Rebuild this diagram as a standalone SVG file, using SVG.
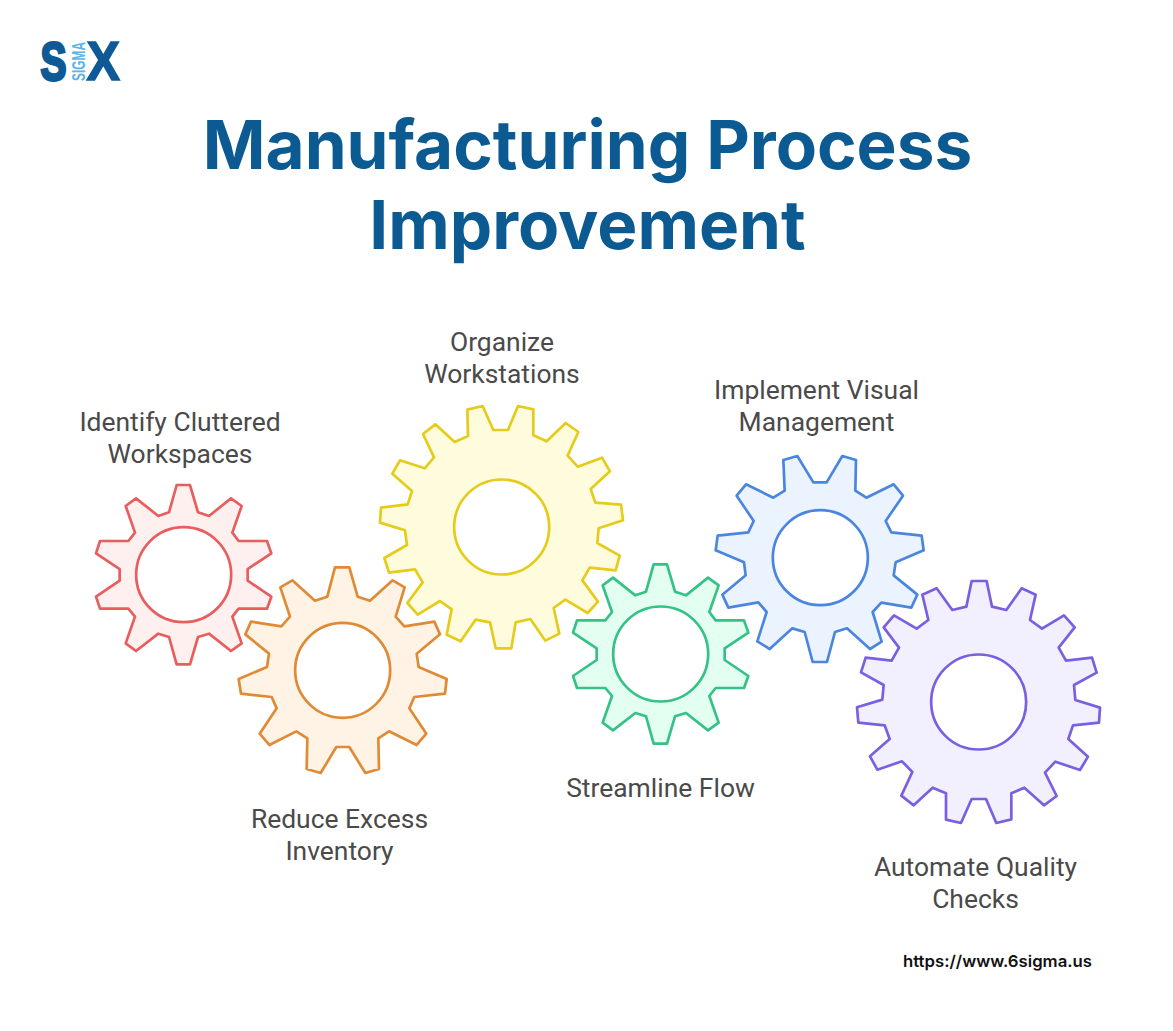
<svg xmlns="http://www.w3.org/2000/svg" width="1173" height="1031" viewBox="0 0 1173 1031">
<style>
text{font-family:Inter,"Liberation Sans",sans-serif}
.title{font-size:67.4px;font-weight:700;fill:#0c5a92;text-anchor:middle}
.label{font-family:Roboto,"Liberation Sans",sans-serif;font-size:26.45px;fill:#4a4a4a;text-anchor:middle}
.url{font-size:16.5px;font-weight:600;fill:#111}
.gear{stroke-width:2.7;stroke-linejoin:round;vector-effect:non-scaling-stroke}
.small{stroke-width:8.1;stroke-linejoin:round}
.hole{fill:#fff;stroke-width:2.7}
.z1{transform:translate(80px,470px) scale(.33333)}
.z2{transform:translate(370px,395px) scale(.33333)}
.z3{transform:translate(700px,445px) scale(.33333)}
.logo{font-family:"Liberation Sans",sans-serif;font-weight:700}
</style>
<defs>
<polygon id="small" points="-21,-269 19,-269 43,-187 76,-176 142,-229 174,-206 146,-126 165,-101 250,-101 263,-64 192,-17 192,18 263,66 250,102 165,102 146,126 174,206 142,229 76,177 43,187 19,269 -21,269 -44,187 -76,177 -143,229 -174,206 -146,126 -166,102 -251,102 -263,66 -192,18 -192,-17 -263,-64 -251,-101 -166,-101 -146,-126 -174,-206 -143,-229 -76,-176 -44,-187"/>
</defs>
<g id="logo">
<text class="logo" x="40.5" y="80" font-size="53" fill="#0f5a96" stroke="#0f5a96" stroke-width="3" textLength="26" lengthAdjust="spacingAndGlyphs">S</text>
<text class="logo" x="86.5" y="80" font-size="55" fill="#0f5a96" stroke="#0f5a96" stroke-width="1.5" textLength="33.5" lengthAdjust="spacingAndGlyphs">X</text>
<text class="logo" transform="translate(84.5 81) rotate(-90)" font-size="19" fill="#5ab4e6" textLength="39" lengthAdjust="spacingAndGlyphs">SIGMA</text>
</g>
<g id="title">
<text class="title" x="587.5" y="168.5">Manufacturing Process</text>
<text class="title" x="587.5" y="249">Improvement</text>
</g>
<g id="connectors"></g>
<g id="gear-identify">
<use href="#small" class="small" transform="translate(183.67 574.67) scale(.33333)" fill="#fff0f0" stroke="#e85d5d"/>
<circle class="hole" cx="183.67" cy="574.67" r="47.5" stroke="#e85d5d"/>
<text class="label" x="180" y="431">Identify Cluttered</text>
<text class="label" x="180" y="462.5">Workspaces</text>
</g>
<g id="gear-reduce">
<polygon class="gear z1" fill="#fff3e6" stroke="#e08a35" points="765,292 808,292 833,380 870,392 938,331 974,352 947,440 973,469 1063,455 1080,493 1010,551 1016,591 1100,627 1095,671 1003,681 988,715 1039,791 1010,825 927,784 895,805 897,897 856,909 808,831 769,831 722,909 680,897 682,805 649,784 568,825 539,791 590,715 575,681 483,671 476,627 561,591 567,551 496,493 513,455 604,469 630,440 601,352 637,331 705,392 742,380"/>
<circle class="hole" cx="342.67" cy="670.33" r="47.5" stroke="#e08a35"/>
<text class="label" x="339.5" y="828">Reduce Excess</text>
<text class="label" x="339.5" y="860">Inventory</text>
</g>
<g id="gear-organize">
<polygon class="gear z2" fill="#fffbdd" stroke="#e5cc1a" points="292,44 338,33 370,105 414,105 444,33 490,43 490,121 530,139 587,84 625,111 593,182 623,215 696,188 720,229 662,282 676,323 753,329 759,376 686,400 682,444 749,482 737,526 659,518 637,556 684,620 653,654 586,614 551,639 568,716 526,737 481,672 437,682 424,760 377,760 360,682 317,674 272,739 230,719 245,643 210,618 143,659 112,624 158,562 135,523 57,533 43,489 111,450 105,406 30,383 33,338 113,328 126,288 67,236 90,196 164,220 192,187 159,117 196,88 254,141 294,123"/>
<circle class="hole" cx="501.67" cy="527" r="47.5" stroke="#e5cc1a"/>
<text class="label" x="502" y="351">Organize</text>
<text class="label" x="502" y="383">Workstations</text>
</g>
<g id="gear-streamline">
<use href="#small" class="small" transform="translate(660.67 654) scale(.33333)" fill="#e3fff2" stroke="#34c286"/>
<circle class="hole" cx="660.67" cy="654" r="47.5" stroke="#34c286"/>
<text class="label" x="660.5" y="796.5">Streamline Flow</text>
</g>
<g id="gear-visual">
<polygon class="gear z3" fill="#ebf3ff" stroke="#4a86e0" points="250,45 292,33 340,112 380,112 427,33 468,45 466,137 499,158 581,118 609,152 557,228 574,262 665,272 671,316 587,352 581,391 652,449 634,488 544,473 518,501 545,590 510,612 441,550 405,561 381,651 338,651 314,561 277,550 209,612 172,589 200,501 175,472 85,488 67,449 137,391 132,352 47,316 53,272 145,262 161,228 110,152 138,118 220,158 254,137"/>
<circle class="hole" cx="820.33" cy="557.67" r="47.5" stroke="#4a86e0"/>
<text class="label" x="816.5" y="399">Implement Visual</text>
<text class="label" x="816.5" y="431">Management</text>
</g>
<g id="gear-automate">
<polygon class="gear z3" fill="#f2f0ff" stroke="#7a60e0" points="815,408 860,408 876,485 919,495 965,430 1007,449 990,525 1026,551 1092,511 1124,547 1076,608 1098,647 1176,638 1190,683 1122,720 1126,765 1200,788 1197,833 1119,841 1105,882 1164,935 1140,975 1066,950 1035,983 1070,1053 1032,1081 973,1028 934,1045 934,1123 889,1134 858,1062 815,1062 783,1134 738,1124 738,1045 698,1028 641,1081 604,1052 637,981 606,949 532,974 510,934 569,882 554,841 475,833 471,787 547,764 551,720 483,682 497,638 575,647 597,608 551,547 582,511 650,551 685,525 667,449 710,430 757,495 799,485"/>
<circle class="hole" cx="978.67" cy="702" r="47.5" stroke="#7a60e0"/>
<text class="label" x="975.5" y="876">Automate Quality</text>
<text class="label" x="975.5" y="908">Checks</text>
</g>
<text class="url" x="903" y="967" textLength="189" lengthAdjust="spacingAndGlyphs">https://www.6sigma.us</text>
</svg>
